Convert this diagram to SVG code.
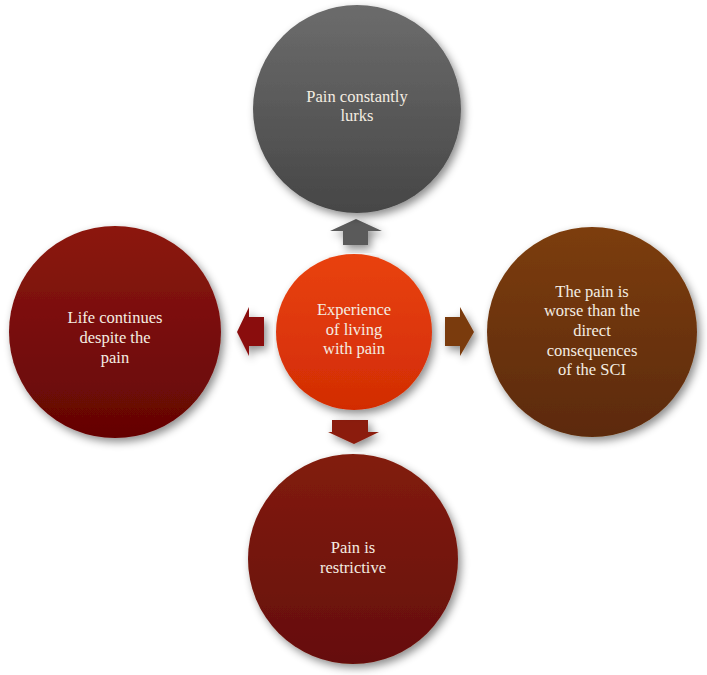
<svg xmlns="http://www.w3.org/2000/svg" width="707" height="675" viewBox="0 0 707 675">
<defs>
<filter id="sh" x="-20%" y="-20%" width="150%" height="150%">
<feDropShadow dx="3" dy="4" stdDeviation="4" flood-color="#000" flood-opacity="0.45"/>
</filter>
<linearGradient id="gGray" x1="0" y1="0" x2="0" y2="1"><stop offset="0" stop-color="#6c6c6c"/><stop offset="1" stop-color="#464646"/></linearGradient>
<linearGradient id="gCenter" x1="0" y1="0" x2="0" y2="1"><stop offset="0" stop-color="#e9420f"/><stop offset="1" stop-color="#d22c04"/></linearGradient>
<linearGradient id="gBrown" x1="0" y1="0" x2="0" y2="1"><stop offset="0" stop-color="#7c3d0c"/><stop offset="1" stop-color="#5c2a07"/></linearGradient>
<linearGradient id="gRed" x1="0" y1="0" x2="0" y2="1"><stop offset="0" stop-color="#8c1811"/><stop offset="1" stop-color="#640404"/></linearGradient>
<linearGradient id="gBottom" x1="0" y1="0" x2="0" y2="1"><stop offset="0" stop-color="#821c0c"/><stop offset="1" stop-color="#650e07"/></linearGradient>
</defs>
<style>
.t{font-family:'Liberation Serif','DejaVu Serif',serif;font-size:16.5px;fill:#f4ede2;text-anchor:middle}
.c{filter:url(#sh)}
</style>
<rect width="707" height="675" fill="#ffffff"/>
<g id="connectors">
<polygon class="c" points="330,231 356,219 382,231 368,231 368,245 343,245 343,231" fill="#5a5a5a"/>
<polygon class="c" points="237,332 249,307 249,317 264,317 264,346 249,346 249,356" fill="#8a0f0e"/>
<polygon class="c" points="474,332 460,307 460,317 445,317 445,346 460,346 460,356" fill="#7a3a0c"/>
<polygon class="c" points="332,420 368,420 368,432 379,432 354,444 328,432 332,432" fill="#8b1b0a"/>
</g>
<g id="node-top">
<circle class="c" cx="357" cy="109" r="104" fill="url(#gGray)"/>
<text class="t" x="357" y="102">Pain constantly</text>
<text class="t" x="357" y="121">lurks</text>
</g>
<g id="node-center">
<circle class="c" cx="354" cy="332" r="78" fill="url(#gCenter)"/>
<text class="t" x="354" y="315">Experience</text>
<text class="t" x="354" y="335">of living</text>
<text class="t" x="354" y="354">with pain</text>
</g>
<g id="node-right">
<circle class="c" cx="592" cy="332" r="105" fill="url(#gBrown)"/>
<text class="t" x="592" y="297">The pain is</text>
<text class="t" x="592" y="316">worse than the</text>
<text class="t" x="592" y="336">direct</text>
<text class="t" x="592" y="356">consequences</text>
<text class="t" x="592" y="375">of the SCI</text>
</g>
<g id="node-left">
<circle class="c" cx="115" cy="332" r="106" fill="url(#gRed)"/>
<text class="t" x="115" y="323">Life continues</text>
<text class="t" x="115" y="343">despite the</text>
<text class="t" x="115" y="363">pain</text>
</g>
<g id="node-bottom">
<circle class="c" cx="353" cy="559" r="105" fill="url(#gBottom)"/>
<text class="t" x="353" y="553">Pain is</text>
<text class="t" x="353" y="573">restrictive</text>
</g>
</svg>
